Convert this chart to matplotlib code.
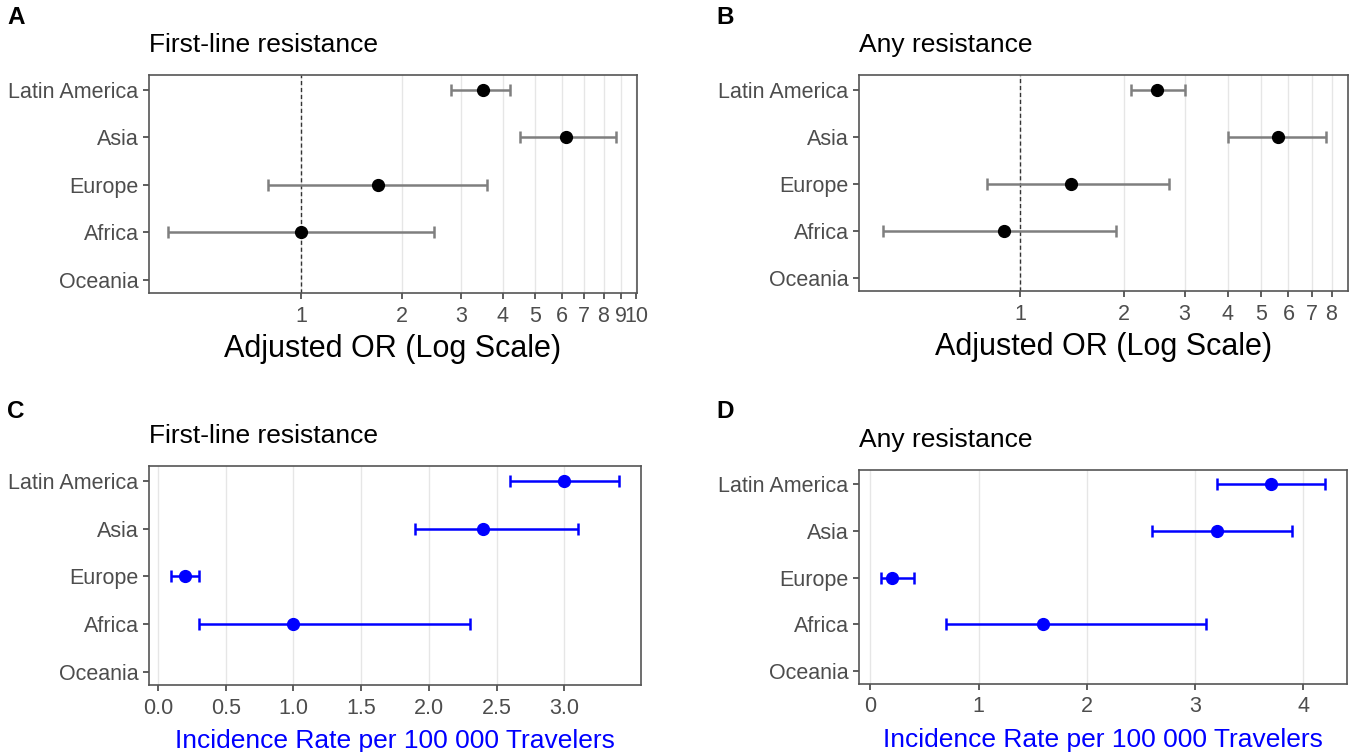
import numpy as np
import matplotlib.pyplot as plt

plt.rcParams['font.family'] = ['Liberation Sans', 'DejaVu Sans']

# regions, top to bottom
regions = ["Latin America", "Asia", "Europe", "Africa", "Oceania"]

# A: adjusted OR, first-line resistance (no estimate for Oceania)
or_first = [3.5, 6.2, 1.7, 1.0]
or_first_lo = [2.8, 4.5, 0.8, 0.4]
or_first_hi = [4.2, 8.7, 3.6, 2.5]

# B: adjusted OR, any resistance
or_any = [2.5, 5.6, 1.4, 0.9]
or_any_lo = [2.1, 4.0, 0.8, 0.4]
or_any_hi = [3.0, 7.7, 2.7, 1.9]

# C: incidence rate per 100 000 travelers, first-line resistance
ir_first = [3.0, 2.4, 0.2, 1.0]
ir_first_lo = [2.6, 1.9, 0.1, 0.3]
ir_first_hi = [3.4, 3.1, 0.3, 2.3]

# D: incidence rate, any resistance
ir_any = [3.7, 3.2, 0.2, 1.6]
ir_any_lo = [3.2, 2.6, 0.1, 0.7]
ir_any_hi = [4.2, 3.9, 0.4, 3.1]

ticks_or_first = [1, 2, 3, 4, 5, 6, 7, 8, 9, 10]
ticks_or_any = [1, 2, 3, 4, 5, 6, 7, 8]
ticks_ir_first = [0.0, 0.5, 1.0, 1.5, 2.0, 2.5, 3.0]
ticks_ir_any = [0, 1, 2, 3, 4]

W, H = 1353, 752
fig = plt.figure(figsize=(W / 100, H / 100), dpi=100)


def box(l, t, r, b):
    return [l / W, 1 - b / H, (r - l) / W, (b - t) / H]


def panel(rect, letter, letter_xy, title, vals, lo, hi, color, ecolor,
          ticks, ticklabels, xlim, log, xlabel, xlabel_color, xlabel_size):
    ax = fig.add_axes(rect)
    ypos = np.arange(len(regions))[::-1] + 1
    y = ypos[:len(vals)]
    v = np.array(vals)
    err = [v - np.array(lo), np.array(hi) - v]
    if log:
        ax.set_xscale('log')
        ax.axvline(1, color='#333333', ls=(0, (3, 2)), lw=1.0, zorder=2)
    ax.errorbar(v, y, xerr=err, fmt='o', color=color, ecolor=ecolor,
                elinewidth=1.8, capsize=4.5, capthick=1.8, markersize=8.5, zorder=3)
    ax.set_xlim(*xlim)
    ax.set_ylim(0.72, 5.31)
    ax.set_yticks(ypos)
    ax.set_yticklabels(regions)
    ax.set_xticks(ticks)
    ax.set_xticklabels(ticklabels)
    ax.minorticks_off()
    ax.grid(axis='x', color='#e6e6e6', lw=1.0, zorder=0)
    ax.set_axisbelow(True)
    for s in ax.spines.values():
        s.set_color('#555555')
        s.set_linewidth(1.2)
    ax.tick_params(colors='#333333', labelcolor='#4d4d4d', labelsize=15.5,
                   length=4, width=1.1)
    ax.tick_params(axis='x', pad=5)
    l, b, w, h = rect
    fig.text(l, b + h + 30 / H, title, fontsize=19, va='center', ha='left')
    fig.text(l + w / 2, b - 56 / H, xlabel, fontsize=xlabel_size,
             color=xlabel_color, ha='center', va='center')
    fig.text(letter_xy[0] / W, 1 - letter_xy[1] / H, letter, fontsize=17.5,
             fontweight='bold', va='center', ha='left')
    return ax


panel(box(149, 75, 637, 293), 'A', (7, 18), 'First-line resistance',
      or_first, or_first_lo, or_first_hi, 'black', '#7f7f7f',
      ticks_or_first, [str(t) for t in ticks_or_first], (0.352, 10.07), True,
      'Adjusted OR (Log Scale)', 'black', 22)

panel(box(859, 75, 1348, 291), 'B', (716, 18), 'Any resistance',
      or_any, or_any_lo, or_any_hi, 'black', '#7f7f7f',
      ticks_or_any, [str(t) for t in ticks_or_any], (0.341, 8.93), True,
      'Adjusted OR (Log Scale)', 'black', 22)

panel(box(149, 466, 641, 685), 'C', (7, 412), 'First-line resistance',
      ir_first, ir_first_lo, ir_first_hi, 'blue', 'blue',
      ticks_ir_first, ['%.1f' % t for t in ticks_ir_first], (-0.066, 3.565), False,
      'Incidence Rate per 100 000 Travelers', 'blue', 19)

panel(box(859, 470, 1347, 684), 'D', (716, 412), 'Any resistance',
      ir_any, ir_any_lo, ir_any_hi, 'blue', 'blue',
      ticks_ir_any, [str(t) for t in ticks_ir_any], (-0.105, 4.405), False,
      'Incidence Rate per 100 000 Travelers', 'blue', 19)

fig.savefig('out.png', dpi=100)
